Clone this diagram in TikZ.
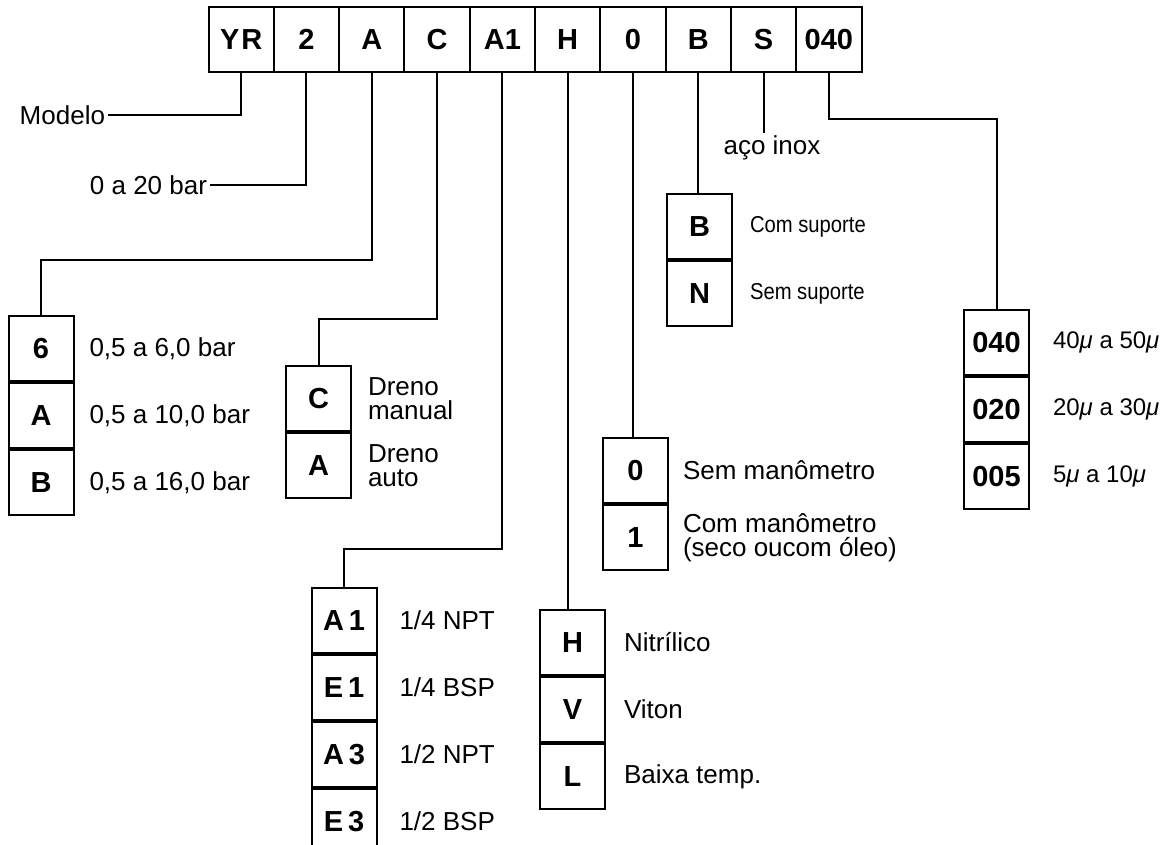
\documentclass[tikz,border=0pt]{standalone}
\usepackage{fontspec}
\setmainfont{Liberation Sans}
\usepackage{tikz}
\usetikzlibrary{positioning}

\begin{document}
\begin{tikzpicture}[
    x=0.5pt, y=-0.5pt,
    line width=1pt,
    code/.style={draw, minimum width=32.65pt, minimum height=32.5pt, inner sep=0pt,
        font=\fontsize{14.5}{15}\selectfont\bfseries},
    opt/.style={draw, minimum width=32.5pt, minimum height=32.5pt, inner sep=0pt,
        font=\fontsize{14.5}{15}\selectfont\bfseries},
    desc/.style={anchor=west, align=left, inner sep=1pt,
        font=\fontsize{13}{12}\selectfont},
    small/.style={desc, font=\fontsize{11.5}{12}\selectfont\addfontfeature{FakeStretch=0.88}},
    micron/.style={desc, font=\fontsize{12}{12}\selectfont}]

    \useasboundingbox (0,0) rectangle (1167,845);

    % order code
    \foreach \name/\lbl [count=\i] in {yr/Y\kern1pt R, two/2, a/A, c/C, aone/A1, h/H, zero/0, b/B, s/S, f/040}
        \node[code] (\name) at ({208.5+65.3*(\i-0.5)}, 39.5) {\lbl};

    % model
    \node[desc, anchor=east] (model) at (108,115) {Modelo};
    \draw (yr.south) |- (model.east);

    % pressure
    \node[desc, anchor=east] (pmax) at (210,185) {0 a 20 bar};
    \draw (two.south) |- (pmax.east);

    % regulating range
    \node[opt, anchor=north] (r6) at (41,315) {6};
    \node[opt, below=0pt of r6] (rA) {A};
    \node[opt, below=0pt of rA] (rB) {B};
    \draw (a.south) -- ++(0,187) -| (r6.north);
    \node[desc, right=6pt of r6] {0,5 a 6,0 bar};
    \node[desc, right=6pt of rA] {0,5 a 10,0 bar};
    \node[desc, right=6pt of rB] {0,5 a 16,0 bar};

    % drain
    \node[opt, anchor=north] (dC) at (318.5,365) {C};
    \node[opt, below=0pt of dC] (dA) {A};
    \draw (c.south) -- ++(0,246) -| (dC.north);
    \node[desc, right=6.5pt of dC] {Dreno\\manual};
    \node[desc, right=6.5pt of dA] {Dreno\\auto};

    % ports
    \node[opt, anchor=north] (pA1) at (344,587) {A\,1};
    \node[opt, below=0pt of pA1] (pE1) {E\,1};
    \node[opt, below=0pt of pE1] (pA3) {A\,3};
    \node[opt, below=0pt of pA3] (pE3) {E\,3};
    \draw (aone.south) -- ++(0,476) -| (pA1.north);
    \node[desc, right=9.5pt of pA1] {1/4 NPT};
    \node[desc, right=9.5pt of pE1] {1/4 BSP};
    \node[desc, right=9.5pt of pA3] {1/2 NPT};
    \node[desc, right=9.5pt of pE3] {1/2 BSP};

    % seals
    \node[opt, anchor=north] (sH) at (572.5,609) {H};
    \node[opt, below=0pt of sH] (sV) {V};
    \node[opt, below=0pt of sV] (sL) {L};
    \draw (h.south) -- (h.south |- sH.north);
    \node[desc, right=7.5pt of sH] {Nitrílico};
    \node[desc, right=7.5pt of sV] {Viton};
    \node[desc, right=7.5pt of sL] {Baixa temp.};

    % gauge
    \node[opt, anchor=north] (g0) at (635.5,437) {0};
    \node[opt, below=0pt of g0] (g1) {1};
    \draw (zero.south) -- (zero.south |- g0.north);
    \node[desc, right=5.5pt of g0] {Sem manômetro};
    \node[desc, right=5.5pt of g1] {Com manômetro\\(seco oucom óleo)};

    % bracket
    \node[opt, anchor=north] (bB) at (699.5,193) {B};
    \node[opt, below=0pt of bB] (bN) {N};
    \draw (b.south) -- (b.south |- bB.north);
    \node[small, right=7pt of bB] {Com suporte};
    \node[small, right=7pt of bN] {Sem suporte};

    % material
    \node[desc, anchor=base] (inox) at (772,155) {aço inox};
    \draw (s.south) -- (s.south |- inox.north);

    % filter element
    \node[opt, anchor=north] (e040) at (996.5,309) {040};
    \node[opt, below=0pt of e040] (e020) {020};
    \node[opt, below=0pt of e020] (e005) {005};
    \draw (f.south) -- ++(0,46) -| (e040.north);
    \node[micron, right=10pt of e040] {40\textit{μ} a 50\textit{μ}};
    \node[micron, right=10pt of e020] {20\textit{μ} a 30\textit{μ}};
    \node[micron, right=10pt of e005] {5\textit{μ} a 10\textit{μ}};

\end{tikzpicture}
\end{document}
